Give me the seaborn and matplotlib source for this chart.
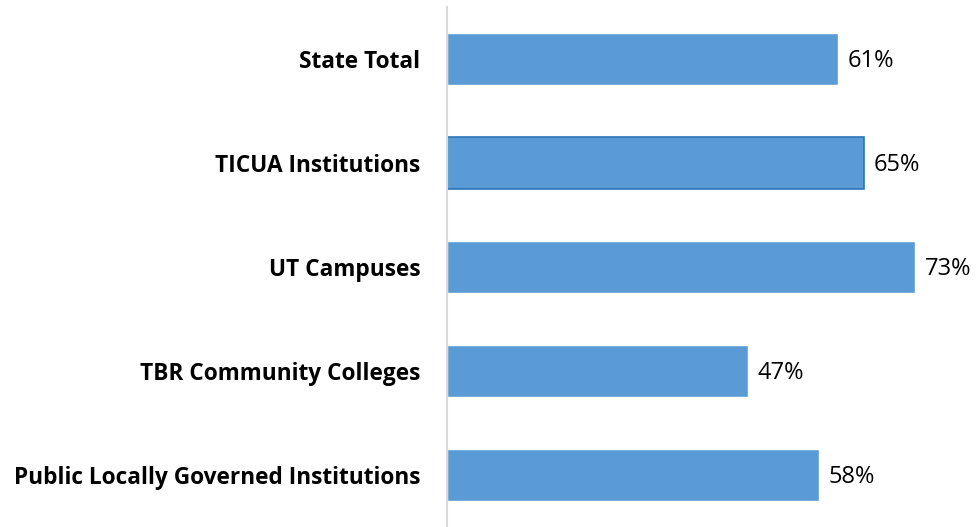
import pandas as pd
import matplotlib.pyplot as plt
import seaborn as sns

categories = ["State Total", "TICUA Institutions", "UT Campuses",
              "TBR Community Colleges", "Public Locally Governed Institutions"]
values = [61, 65, 73, 47, 58]

df = pd.DataFrame({"group": categories, "pct": values})

sns.set_style("white")
plt.rcParams['font.family'] = ['Open Sans', 'DejaVu Sans']

fig = plt.figure(figsize=(9.76, 5.27), dpi=100)
ax = fig.add_axes([0.458, -0.0076, 0.542, 0.9943])

sns.barplot(data=df, y="group", x="pct", color="#5B9BD5", saturation=1,
            width=0.5, orient="h", ax=ax)

# the second bar has a darker outline in the original
ax.patches[1].set_edgecolor("#2E75B6")
ax.patches[1].set_linewidth(1.2)

for i, v in enumerate(values):
    ax.text(v + 1.5, i + 0.02, f"{v}%", va="center", ha="left", fontsize=17, color="#000000")

ax.set_xlim(0, 82.5)
ax.set_ylim(4.5 + 0.04, -0.5)
ax.set_xlabel("")
ax.set_ylabel("")
ax.set_xticks([])
ax.tick_params(axis="y", length=0, pad=19)
for lbl in ax.get_yticklabels():
    lbl.set_fontweight("bold")
    lbl.set_fontsize(16.3)
    lbl.set_color("#000000")

sns.despine(ax=ax, top=True, right=True, bottom=True, left=False)
ax.spines["left"].set_color("#D9D9D9")
ax.spines["left"].set_linewidth(1.5)

fig.savefig("out.png", dpi=100)
